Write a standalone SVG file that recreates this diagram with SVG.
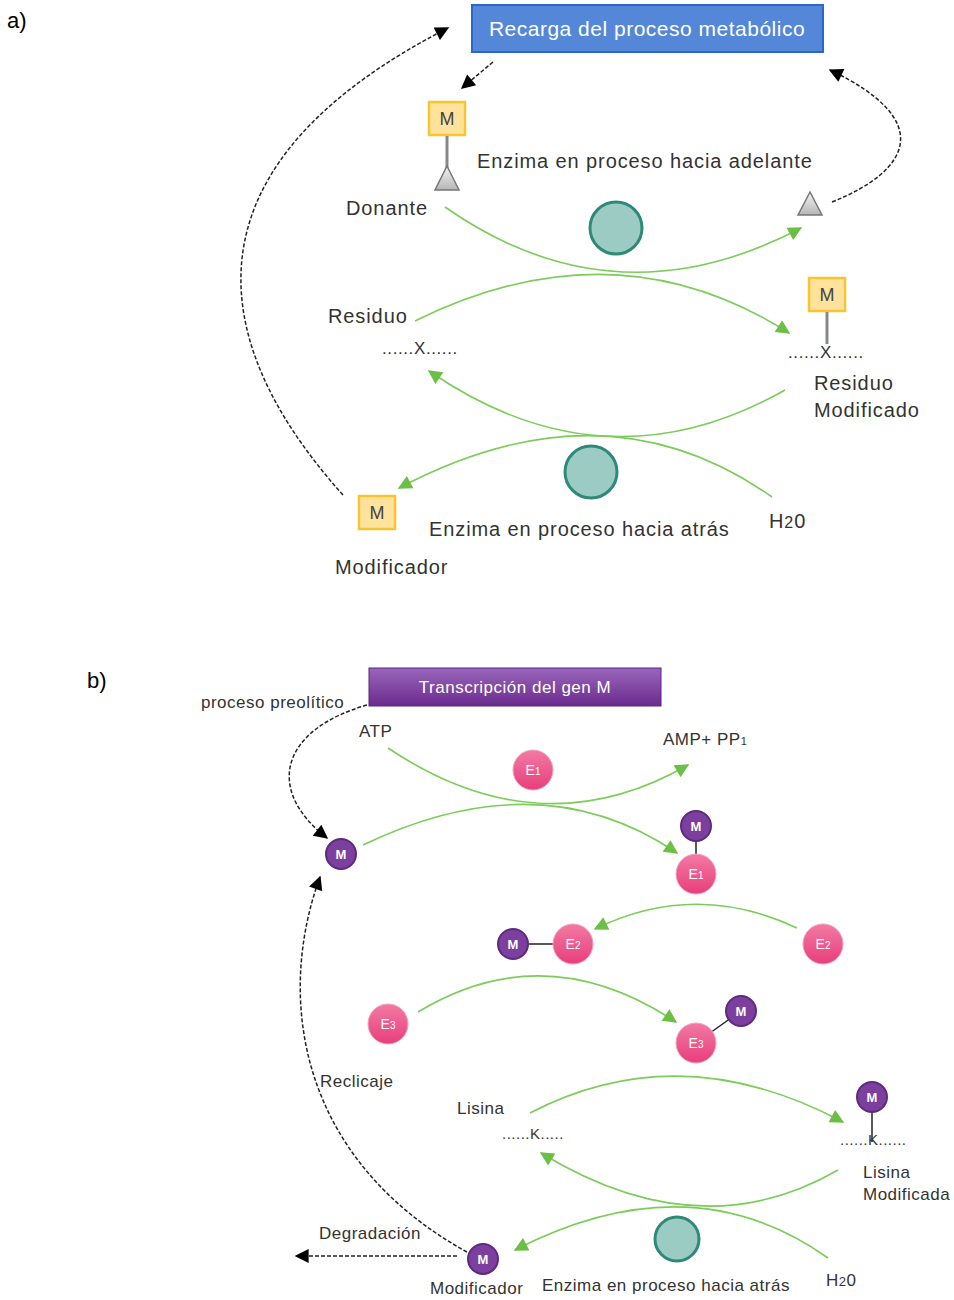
<svg xmlns="http://www.w3.org/2000/svg" width="954" height="1300" viewBox="0 0 954 1300">
<style>
.t{font-family:"Liberation Sans",Arial,sans-serif;fill:#333;}
.ta{font-size:20px;letter-spacing:0.9px;}
.tb{font-size:17px;letter-spacing:0.5px;}
.dots{font-size:17px;letter-spacing:0.6px;}
.dotsb{font-size:15px;letter-spacing:0.5px;}
.lab{font-family:"Liberation Sans",Arial,sans-serif;font-size:22px;fill:#000;}
.g{fill:none;stroke:#7ccc5a;stroke-width:1.6;}
.d{fill:none;stroke:#222;stroke-width:1.5;stroke-dasharray:4,2;}
.mbox{fill:#ffe39c;stroke:#f8c431;stroke-width:2.5;}
.mt{font-family:"Liberation Sans",Arial,sans-serif;font-size:18px;fill:#444;text-anchor:middle;}
.stick{stroke:#888;stroke-width:3;}
.tri{fill:url(#gtri);stroke:#777;stroke-width:1.5;}
.enz{fill:#9ccbc3;stroke:#2e8a78;stroke-width:3;}
.pm{fill:#7c3f9e;stroke:#5e2a7f;stroke-width:2;}
.pe{fill:url(#gpink);stroke:#f2a3c0;stroke-width:1;}
.ct{font-family:"Liberation Sans",Arial,sans-serif;font-size:13px;fill:#fff;text-anchor:middle;font-weight:bold;}
.cte{font-family:"Liberation Sans",Arial,sans-serif;font-size:14px;fill:#fff;text-anchor:middle;}
.bond{stroke:#222;stroke-width:1.5;}
</style>
<defs>
<linearGradient id="gtri" x1="0" y1="0" x2="0" y2="1"><stop offset="0" stop-color="#f4f4f4"/><stop offset="1" stop-color="#b5b5b5"/></linearGradient>
<linearGradient id="gpink" x1="0" y1="0" x2="0" y2="1"><stop offset="0" stop-color="#f27aa3"/><stop offset="1" stop-color="#e83e7b"/></linearGradient>
<linearGradient id="gpur" x1="0" y1="0" x2="0" y2="1"><stop offset="0" stop-color="#9a66bb"/><stop offset="1" stop-color="#6a2b8d"/></linearGradient>
<marker id="ag" viewBox="0 0 10 10" refX="9" refY="5" markerWidth="18" markerHeight="14" markerUnits="userSpaceOnUse" orient="auto"><path d="M0,0 L10,5 L0,10 Z" fill="#6cbf45"/></marker>
<marker id="ab" viewBox="0 0 10 10" refX="9" refY="5" markerWidth="18" markerHeight="14" markerUnits="userSpaceOnUse" orient="auto"><path d="M0,0 L10,5 L0,10 Z" fill="#000"/></marker>
</defs>

<text class="lab" x="7" y="28">a)</text>
<text class="lab" x="87" y="688">b)</text>

<g id="connectors">
<!-- part a -->
<path class="d" d="M493,62 L462,88" marker-end="url(#ab)"/>
<path class="d" d="M832,202 C912,170 935,120 830,70" marker-end="url(#ab)"/>
<path class="d" d="M343,495 C195,330 190,160 448,28" marker-end="url(#ab)"/>
<path class="g" d="M445,207 Q615,326 801,228" marker-end="url(#ag)"/>
<path class="g" d="M415,321 Q615,222 789,333" marker-end="url(#ag)"/>
<path class="g" d="M785,390 Q605,492 429,371" marker-end="url(#ag)"/>
<path class="g" d="M772,497 Q605,379 399,488" marker-end="url(#ag)"/>
<!-- part b -->
<path class="d" d="M367,705 C280,730 265,790 327,838" marker-end="url(#ab)"/>
<path class="d" d="M467,1252 C300,1160 275,1000 320,877" marker-end="url(#ab)"/>
<path class="d" d="M457,1256 L296,1256" marker-end="url(#ab)"/>
<path class="g" d="M388,748 Q540,850 688,765" marker-end="url(#ag)"/>
<path class="g" d="M363,845 Q540,760 677,853" marker-end="url(#ag)"/>
<path class="g" d="M797,928 Q695,880 595,929" marker-end="url(#ag)"/>
<path class="g" d="M418,1012 Q545,935 676,1022" marker-end="url(#ag)"/>
<path class="g" d="M530,1113 Q680,1035 843,1122" marker-end="url(#ag)"/>
<path class="g" d="M838,1170 Q700,1250 541,1153" marker-end="url(#ag)"/>
<path class="g" d="M828,1258 Q690,1160 515,1250" marker-end="url(#ag)"/>
</g>

<!-- Part a nodes -->
<g id="recarga">
<rect x="472" y="5" width="351" height="47" fill="#5587d8" stroke="#2b66cc" stroke-width="2"/>
<text x="647" y="36" font-family="Liberation Sans,Arial,sans-serif" font-size="21" letter-spacing="0.5" fill="#fff" text-anchor="middle">Recarga del proceso metabólico</text>
</g>
<g id="donante">
<rect class="mbox" x="429" y="102" width="36" height="33"/>
<text class="mt" x="447" y="125">M</text>
<line class="stick" x1="447" y1="136" x2="447" y2="168"/>
<path class="tri" d="M447,166 L459,190 L435,190 Z"/>
<text class="t ta" x="346" y="215">Donante</text>
</g>
<text class="t ta" x="477" y="168">Enzima en proceso hacia adelante</text>
<g id="enzima-adelante"><circle class="enz" cx="616" cy="228" r="26"/></g>
<g id="donante-vacio"><path class="tri" d="M810,192 L822,215 L798,215 Z"/></g>
<g id="residuo">
<text class="t ta" x="328" y="323">Residuo</text>
<text class="t dots" x="382" y="354">......X......</text>
</g>
<g id="residuo-modificado">
<rect class="mbox" x="809" y="278" width="36" height="33"/>
<text class="mt" x="827" y="301">M</text>
<line class="stick" x1="827" y1="312" x2="827" y2="344"/>
<text class="t dots" x="788" y="358">......X......</text>
<text class="t ta" x="814" y="390">Residuo</text>
<text class="t ta" x="814" y="417">Modificado</text>
</g>
<g id="enzima-atras"><circle class="enz" cx="591" cy="472" r="26"/></g>
<text class="t ta" x="429" y="536">Enzima en proceso hacia atrás</text>
<g id="h2o-a"><text class="t ta" x="769" y="528">H<tspan font-size="16">2</tspan>0</text></g>
<g id="modificador">
<rect class="mbox" x="359" y="496" width="36" height="33"/>
<text class="mt" x="377" y="519">M</text>
<text class="t ta" x="335" y="574">Modificador</text>
</g>

<!-- Part b nodes -->
<g id="transcripcion">
<rect x="369" y="668" width="292" height="38" fill="url(#gpur)" stroke="#5d2580" stroke-width="1"/>
<text x="515" y="693" font-family="Liberation Sans,Arial,sans-serif" font-size="17" letter-spacing="0.5" fill="#fff" text-anchor="middle">Transcripción del gen M</text>
</g>
<text class="t tb" x="201" y="708">proceso preolítico</text>
<g id="atp"><text class="t tb" x="359" y="737">ATP</text></g>
<g id="amp"><text class="t tb" x="663" y="745">AMP+ PP<tspan font-size="11">1</tspan></text></g>
<g id="e1"><circle class="pe" cx="533" cy="770" r="20"/><text class="cte" x="533" y="775">E<tspan font-size="10">1</tspan></text></g>
<g id="m-libre"><circle class="pm" cx="341" cy="854" r="15"/><text class="ct" x="341" y="859">M</text></g>
<g id="m-e1">
<line class="bond" x1="696" y1="840" x2="696" y2="856"/>
<circle class="pm" cx="696" cy="826" r="15"/><text class="ct" x="696" y="831">M</text>
<circle class="pe" cx="696" cy="874" r="20"/><text class="cte" x="696" y="879">E<tspan font-size="10">1</tspan></text>
</g>
<g id="m-e2">
<line class="bond" x1="527" y1="944" x2="554" y2="944"/>
<circle class="pm" cx="513" cy="944" r="15"/><text class="ct" x="513" y="949">M</text>
<circle class="pe" cx="573" cy="944" r="20"/><text class="cte" x="573" y="949">E<tspan font-size="10">2</tspan></text>
</g>
<g id="e2"><circle class="pe" cx="823" cy="944" r="20"/><text class="cte" x="823" y="949">E<tspan font-size="10">2</tspan></text></g>
<g id="e3"><circle class="pe" cx="388" cy="1024" r="20"/><text class="cte" x="388" y="1029">E<tspan font-size="10">3</tspan></text></g>
<g id="m-e3">
<line class="bond" x1="710" y1="1033" x2="731" y2="1018"/>
<circle class="pe" cx="696" cy="1043" r="20"/><text class="cte" x="696" y="1048">E<tspan font-size="10">3</tspan></text>
<circle class="pm" cx="741" cy="1011" r="15"/><text class="ct" x="741" y="1016">M</text>
</g>
<g id="lisina">
<text class="t tb" x="457" y="1114">Lisina</text>
<text class="t dotsb" x="502" y="1139">......K.....</text>
</g>
<g id="lisina-modificada">
<line class="bond" x1="872" y1="1111" x2="872" y2="1142"/>
<circle class="pm" cx="872" cy="1097" r="15"/><text class="ct" x="872" y="1102">M</text>
<text class="t dotsb" x="840" y="1145">......K......</text>
<text class="t tb" x="863" y="1178">Lisina</text>
<text class="t tb" x="863" y="1200">Modificada</text>
</g>
<g id="enzima-atras-b"><circle class="enz" cx="677" cy="1239" r="22"/></g>
<text class="t tb" x="542" y="1291">Enzima en proceso hacia atrás</text>
<g id="h2o-b"><text class="t tb" x="826" y="1286">H<tspan font-size="13">2</tspan>0</text></g>
<g id="modificador-b">
<circle class="pm" cx="483" cy="1259" r="15"/><text class="ct" x="483" y="1264">M</text>
<text class="t tb" x="430" y="1294">Modificador</text>
</g>
<text class="t tb" x="319" y="1239">Degradación</text>
<text class="t tb" x="320" y="1087">Reclicaje</text>
</svg>
